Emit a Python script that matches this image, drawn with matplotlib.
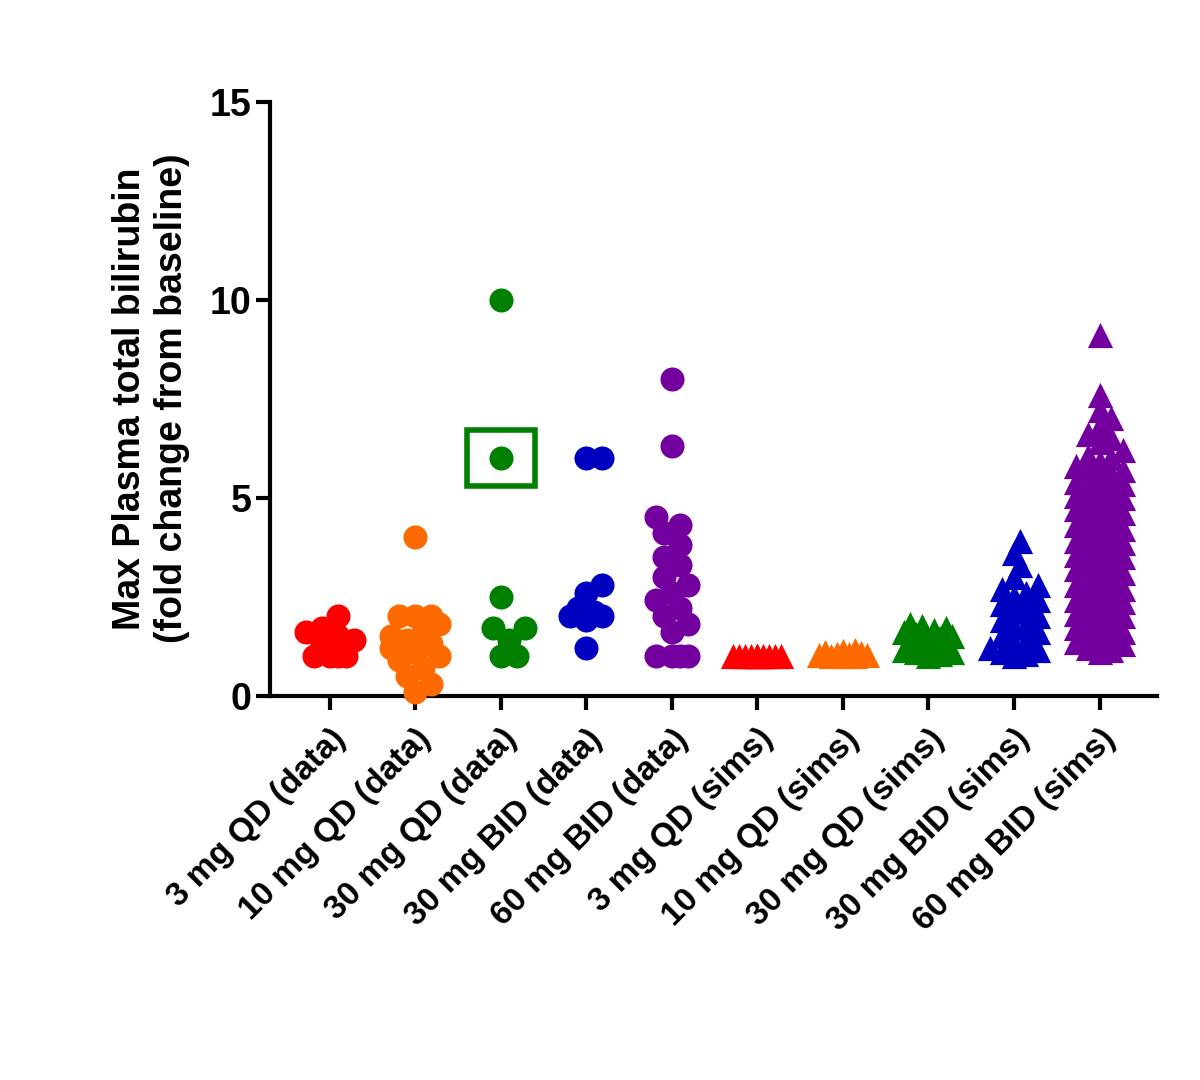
import numpy as np
import matplotlib
matplotlib.use('Agg')
import matplotlib.pyplot as plt
from matplotlib.patches import Rectangle

plt.rcParams['font.family'] = ['Liberation Sans', 'DejaVu Sans']
plt.rcParams['font.weight'] = 'bold'
plt.rcParams['axes.labelweight'] = 'bold'

labels = ['3 mg QD (data)', '10 mg QD (data)', '30 mg QD (data)', '30 mg BID (data)',
          '60 mg BID (data)', '3 mg QD (sims)', '10 mg QD (sims)', '30 mg QD (sims)',
          '30 mg BID (sims)', '60 mg BID (sims)']
colors = ['#ff0000', '#ff6a00', '#008000', '#0000c0', '#73009e',
          '#ff0000', '#ff6a00', '#008000', '#0000c0', '#73009e']

qd3_data = [1.0, 1.0, 1.0, 1.0, 1.3, 1.4, 1.5, 1.6, 1.7, 2.0]
qd10_data = [0.1, 0.3, 0.5, 0.7, 0.9, 1.0, 1.1, 1.2, 1.3, 1.4, 1.5, 1.6, 1.8, 2.0, 2.0, 2.0, 4.0]
qd30_data = [1.0, 1.0, 1.4, 1.7, 1.7, 2.5, 6.0, 10.0]
bid30_data = [1.2, 1.9, 2.0, 2.0, 2.1, 2.2, 2.6, 2.8, 6.0, 6.0]
bid60_data = [1.0, 1.0, 1.0, 1.0, 1.6, 1.8, 2.0, 2.2, 2.4, 2.6, 2.8, 3.0, 3.3, 3.5,
              3.8, 4.1, 4.3, 4.5, 6.3, 8.0]
qd3_sims = [1.0] * 12
qd10_sims = [1.0, 1.0, 1.0, 1.02, 1.03, 1.05, 1.05, 1.08, 1.1, 1.12, 1.15]
qd30_sims = [1.0, 1.05, 1.1, 1.1, 1.15, 1.2, 1.25, 1.3, 1.35, 1.4, 1.45, 1.5, 1.55,
             1.6, 1.65, 1.7, 1.75, 1.8]
bid30_sims = [1.0, 1.05, 1.1, 1.15, 1.2, 1.3, 1.4, 1.5, 1.6, 1.7, 1.8, 1.9, 2.0, 2.1,
              2.2, 2.3, 2.4, 2.5, 2.6, 2.7, 2.8, 3.0, 3.3, 3.6, 3.9]
bid60_sims = [1.1, 1.2, 1.3, 1.4, 1.5, 1.6, 1.7, 1.8, 1.9, 2.0, 2.1, 2.2, 2.3, 2.4,
              2.5, 2.6, 2.7, 2.8, 2.9, 3.0, 3.1, 3.2, 3.3, 3.4, 3.5, 3.6, 3.7, 3.8,
              3.9, 4.0, 4.1, 4.2, 4.3, 4.4, 4.5, 4.6, 4.7, 4.8, 4.9, 5.0, 5.1, 5.2,
              5.3, 5.4, 5.5, 5.6, 5.7, 5.8, 5.9, 6.0, 6.2, 6.4, 6.6, 6.8, 7.0, 7.2,
              1.15, 1.35, 1.55, 1.75, 2.05, 2.35, 2.65, 2.95, 3.25, 3.55, 3.85, 4.15,
              4.45, 4.75, 5.05, 5.35, 5.65, 6.05, 6.5, 7.6, 9.1]
groups = [qd3_data, qd10_data, qd30_data, bid30_data, bid60_data,
          qd3_sims, qd10_sims, qd30_sims, bid30_sims, bid60_sims]


def swarm(values, xscale, yscale, min_dist, max_half):
    # simple beeswarm: offsets in data x units
    placed = []
    offsets = []
    step = min_dist / xscale / 2
    for v in values:
        best, best_d = 0.0, -1
        for k in range(0, 60):
            for sgn in ((1,) if k == 0 else (1, -1)):
                off = sgn * k * step
                if abs(off) > max_half:
                    continue
                d = min([np.hypot((off - po) * xscale, (v - pv) * yscale)
                         for po, pv in placed] + [1e9])
                if d >= min_dist:
                    best, best_d = off, d
                    break
                if d > best_d:
                    best, best_d = off, d
            if best_d >= min_dist:
                break
        placed.append((best, v))
        offsets.append(best)
    return np.array(offsets)


fig = plt.figure(figsize=(12, 10.8), dpi=100)
ax = fig.add_axes([0.225, 0.356, 0.739, 0.55])
xscale = 85.6   # px per category
yscale = 39.5   # px per unit

for i, (vals, c) in enumerate(zip(groups, colors)):
    vals = sorted(vals)
    sims = i >= 5
    offs = swarm(vals, xscale, yscale, 12 if sims else 16, 0.33 if not sims else 0.3)
    ax.scatter(i + offs, vals, s=300 if not sims else 330, color=c,
               marker='^' if sims else 'o', linewidths=0, zorder=3, clip_on=False)

# box around the highlighted 30 mg QD point
hl = 6.0
ax.add_patch(Rectangle((2 - 0.4, hl - 0.7), 0.8, 1.4, fill=False,
                       edgecolor=colors[2], linewidth=4, zorder=4))

ax.set_xlim(-0.7, 9.67)
ax.set_ylim(0, 15)
ax.set_yticks([0, 5, 10, 15])
ax.set_xticks(range(10))
ax.set_xticklabels(labels, rotation=45, ha='right', rotation_mode='anchor',
                   fontsize=24, fontweight='bold')
ax.tick_params(axis='y', labelsize=27, width=3, length=10)
ax.tick_params(axis='x', width=3, length=10, pad=10)
for s in ['top', 'right']:
    ax.spines[s].set_visible(False)
for s in ['left', 'bottom']:
    ax.spines[s].set_linewidth(3)
ax.set_ylabel('Max Plasma total bilirubin\n(fold change from baseline)', fontsize=27,
              fontweight='bold', labelpad=14)

plt.savefig('out.png')
